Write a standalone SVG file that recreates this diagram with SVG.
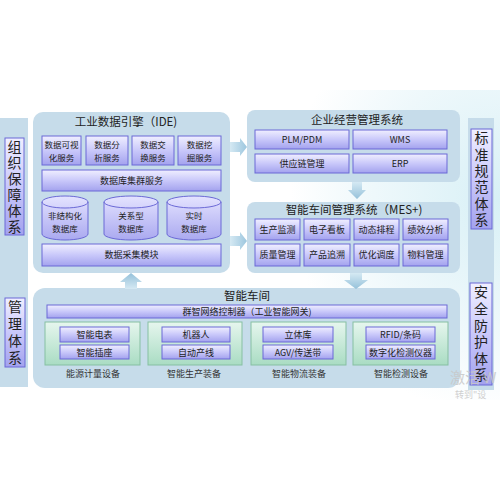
<svg xmlns="http://www.w3.org/2000/svg" width="500" height="500" viewBox="0 0 500 500">
<defs>
<linearGradient id="pg" x1="0" y1="0" x2="0" y2="1">
<stop offset="0" stop-color="#f0efff"/>
<stop offset="0.5" stop-color="#c9c8fa"/>
<stop offset="1" stop-color="#a3a2ee"/>
</linearGradient>
<linearGradient id="gg" x1="0" y1="0" x2="0" y2="1">
<stop offset="0" stop-color="#e6f6ee"/>
<stop offset="1" stop-color="#a9dcc3"/>
</linearGradient>
<linearGradient id="cyl" x1="0" y1="0" x2="0" y2="1">
<stop offset="0" stop-color="#e4e3ff"/>
<stop offset="1" stop-color="#aaa9f0"/>
</linearGradient>
<linearGradient id="ar" x1="0" y1="0" x2="1" y2="0">
<stop offset="0" stop-color="#d5e9f3"/>
<stop offset="1" stop-color="#9cc6de"/>
</linearGradient>
<linearGradient id="ad" x1="0" y1="0" x2="0" y2="1">
<stop offset="0" stop-color="#d5e9f3"/>
<stop offset="1" stop-color="#95c1da"/>
</linearGradient>
<linearGradient id="au" x1="0" y1="1" x2="0" y2="0">
<stop offset="0" stop-color="#d5e9f3"/>
<stop offset="1" stop-color="#95c1da"/>
</linearGradient>
<radialGradient id="bg" cx="1" cy="0.35" r="0.7">
<stop offset="0" stop-color="#d8f0f6"/>
<stop offset="0.6" stop-color="#eef8fb"/>
<stop offset="1" stop-color="#ffffff"/>
</radialGradient>
</defs>
<style>
.panel{fill:#c6dcea}
.pb{fill:url(#pg);stroke:#6b69d6;stroke-width:1}
.gb{fill:url(#gg);stroke:#86bfa2;stroke-width:1}
.cy{fill:url(#cyl);stroke:#6b69d6;stroke-width:1}
.t{font-family:"Noto Sans CJK SC","Noto Sans",sans-serif;fill:#222;text-anchor:middle}
.vt{font-family:"Noto Sans CJK SC","Noto Sans",sans-serif;fill:#222;font-size:14px;writing-mode:vertical-rl;text-anchor:start}
.s{font-size:9px}
.s2{font-size:8.5px}
.h{font-size:11.5px}
.l{font-size:9px;fill:#333}
</style>
<rect x="0" y="0" width="500" height="500" fill="#fff"/>
<rect x="200" y="90" width="300" height="310" fill="url(#bg)"/>

<g id="left-column">
<rect x="0" y="118" width="28" height="269" class="panel"/>
<g id="org">
<rect x="5" y="138" width="19" height="97" class="pb"/>
<text class="vt" x="14.5" y="140" letter-spacing="2">组织保障体系</text>
</g>
<g id="mgmt">
<rect x="5" y="298" width="20" height="69" class="pb"/>
<text class="vt" x="15" y="300" letter-spacing="3">管理体系</text>
</g>
</g>

<g id="right-column">
<rect x="468" y="118" width="26" height="272" class="panel"/>
<g id="std">
<rect x="471" y="129" width="21" height="100" class="pb"/>
<text class="vt" x="481.5" y="131" letter-spacing="2.3">标准规范体系</text>
</g>
<g id="sec">
<rect x="470" y="283" width="22" height="102" class="pb"/>
<text class="vt" x="481" y="285" letter-spacing="2.6">安全防护体系</text>
</g>
</g>

<g id="ide">
<rect x="33" y="112" width="197" height="161" rx="10" class="panel"/>
<text class="t h" x="126" y="126">工业数据引擎（IDE)</text>
<g id="ide-svc1"><rect x="42" y="136" width="39" height="29" class="pb"/><text class="t s2" x="61.5" y="148">数据可视<tspan x="61.5" dy="12.5">化服务</tspan></text></g>
<g id="ide-svc2"><rect x="86" y="136" width="42" height="29" class="pb"/><text class="t s2" x="107" y="148">数据分<tspan x="107" dy="12.5">析服务</tspan></text></g>
<g id="ide-svc3"><rect x="132" y="136" width="42" height="29" class="pb"/><text class="t s2" x="153" y="148">数据交<tspan x="153" dy="12.5">换服务</tspan></text></g>
<g id="ide-svc4"><rect x="178" y="136" width="43" height="29" class="pb"/><text class="t s2" x="199.5" y="148">数据挖<tspan x="199.5" dy="12.5">掘服务</tspan></text></g>
<g id="ide-cluster"><rect x="42" y="170" width="179" height="21" class="pb"/><text class="t s" x="131.5" y="184">数据库集群服务</text></g>
<g id="db1"><path class="cy" d="M42,202 A23,6 0 0 1 88,202 L88,234 A23,6 0 0 1 42,234 Z"/><path d="M42,202 A23,6 0 0 0 88,202" fill="none" stroke="#6b69d6"/><text class="t s2" x="65" y="219">非结构化<tspan x="65" dy="12.5">数据库</tspan></text></g>
<g id="db2"><path class="cy" d="M104,202 A27,6 0 0 1 158,202 L158,234 A27,6 0 0 1 104,234 Z"/><path d="M104,202 A27,6 0 0 0 158,202" fill="none" stroke="#6b69d6"/><text class="t s2" x="131" y="219">关系型<tspan x="131" dy="12.5">数据库</tspan></text></g>
<g id="db3"><path class="cy" d="M167,202 A27,6 0 0 1 221,202 L221,234 A27,6 0 0 1 167,234 Z"/><path d="M167,202 A27,6 0 0 0 221,202" fill="none" stroke="#6b69d6"/><text class="t s2" x="194" y="219">实时<tspan x="194" dy="12.5">数据库</tspan></text></g>
<g id="ide-collect"><rect x="42" y="244" width="179" height="22" class="pb"/><text class="t s" x="131.5" y="258">数据采集模块</text></g>
</g>

<g id="ems">
<rect x="247" y="110" width="213" height="72" rx="8" class="panel"/>
<text class="t h" x="357" y="124">企业经营管理系统</text>
<g id="plm"><rect x="255" y="130" width="94" height="19" class="pb"/><text class="t s" x="302" y="143">PLM/PDM</text></g>
<g id="wms"><rect x="353" y="130" width="94" height="19" class="pb"/><text class="t s" x="400" y="143">WMS</text></g>
<g id="scm"><rect x="255" y="154" width="94" height="19" class="pb"/><text class="t s" x="302" y="167">供应链管理</text></g>
<g id="erp"><rect x="353" y="154" width="94" height="19" class="pb"/><text class="t s" x="400" y="167">ERP</text></g>
</g>

<g id="mes">
<rect x="247" y="202" width="213" height="71" rx="8" class="panel"/>
<text class="t h" x="354" y="214">智能车间管理系统（MES+)</text>
<g id="mes1"><rect x="255" y="219" width="45" height="21" class="pb"/><text class="t s" x="277.5" y="233">生产监测</text></g>
<g id="mes2"><rect x="304" y="219" width="46" height="21" class="pb"/><text class="t s" x="327" y="233">电子看板</text></g>
<g id="mes3"><rect x="354" y="219" width="45" height="21" class="pb"/><text class="t s" x="376.5" y="233">动态排程</text></g>
<g id="mes4"><rect x="403" y="219" width="45" height="21" class="pb"/><text class="t s" x="425.5" y="233">绩效分析</text></g>
<g id="mes5"><rect x="255" y="244" width="45" height="22" class="pb"/><text class="t s" x="277.5" y="258">质量管理</text></g>
<g id="mes6"><rect x="304" y="244" width="46" height="22" class="pb"/><text class="t s" x="327" y="258">产品追溯</text></g>
<g id="mes7"><rect x="354" y="244" width="45" height="22" class="pb"/><text class="t s" x="376.5" y="258">优化调度</text></g>
<g id="mes8"><rect x="403" y="244" width="45" height="22" class="pb"/><text class="t s" x="425.5" y="258">物料管理</text></g>
</g>

<g id="workshop">
<rect x="33" y="288" width="427" height="100" rx="12" class="panel"/>
<text class="t h" x="247" y="300">智能车间</text>
<g id="gateway"><rect x="47" y="305" width="400" height="13" class="pb"/><text class="t s" x="247" y="315">群智网络控制器（工业智能网关)</text></g>
<g id="energy">
<rect x="45" y="322" width="95" height="43" class="gb"/>
<rect x="60" y="327" width="69" height="15" class="pb"/><text class="t s" x="94.5" y="338">智能电表</text>
<rect x="60" y="345" width="69" height="14" class="pb"/><text class="t s" x="94.5" y="356">智能插座</text>
<text class="t l" x="93" y="377">能源计量设备</text>
</g>
<g id="production">
<rect x="148" y="322" width="94" height="43" class="gb"/>
<rect x="162" y="327" width="68" height="15" class="pb"/><text class="t s" x="196" y="338">机器人</text>
<rect x="162" y="345" width="68" height="14" class="pb"/><text class="t s" x="196" y="356">自动产线</text>
<text class="t l" x="194" y="377">智能生产装备</text>
</g>
<g id="logistics">
<rect x="251" y="322" width="95" height="43" class="gb"/>
<rect x="263" y="327" width="70" height="15" class="pb"/><text class="t s" x="298" y="338">立体库</text>
<rect x="263" y="345" width="70" height="14" class="pb"/><text class="t s" x="298" y="356">AGV/传送带</text>
<text class="t l" x="299" y="377">智能物流装备</text>
</g>
<g id="inspection">
<rect x="353" y="322" width="95" height="43" class="gb"/>
<rect x="366" y="327" width="69" height="15" class="pb"/><text class="t s" x="400.5" y="338">RFID/条码</text>
<rect x="366" y="345" width="69" height="14" class="pb"/><text class="t s" x="400.5" y="356">数字化检测仪器</text>
<text class="t l" x="401" y="377">智能检测设备</text>
</g>
</g>

<g id="connectors">
<path d="M230,142 L240,142 L240,138 L247,147 L240,156 L240,152 L230,152 Z" fill="url(#ar)"/>
<path d="M230,236 L240,236 L240,232 L247,241 L240,250 L240,246 L230,246 Z" fill="url(#ar)"/>
<path d="M352,182 L362,182 L362,190 L366,190 L357,199 L348,190 L352,190 Z" fill="url(#ad)"/>
<path d="M350,273 L362,273 L362,280 L368,280 L356,289 L344,280 L350,280 Z" fill="url(#ad)"/>
<path d="M125,289 L137,289 L137,282 L142,282 L131,273 L120,282 L125,282 Z" fill="url(#au)"/>
</g>

<g id="watermark" fill="#c8c8c8" font-family="Noto Sans CJK SC,sans-serif" opacity="0.85">
<text x="450" y="383" font-size="15">激活 W</text>
<text x="455" y="398" font-size="9">转到"设</text>
</g>
</svg>
